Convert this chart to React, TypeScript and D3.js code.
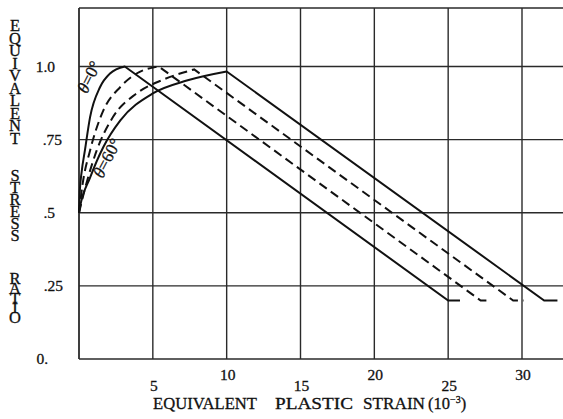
import React from 'react';
import * as d3 from 'd3';

const W = 563;
const H = 419;

const xTicks = [5, 10, 15, 20, 25, 30];
const xTickLabels = ['5', '10', '15', '20', '25', '30'];
const yTicks = [0, 0.25, 0.5, 0.75, 1.0];
const yTickLabels = ['0.', '.25', '.5', '.75', '1.0'];
const FLAT = 0.2;

// rising (hardening) branches: [strain, stress ratio]
const rise0: [number, number][] = [[0, 0.5], [0.05, 0.57], [0.18, 0.64], [0.4, 0.713], [0.75, 0.827], [1.42, 0.929], [2.1, 0.976], [3.1, 1.0]];
const rise30: [number, number][] = [[0, 0.5], [0.25, 0.6], [0.75, 0.713], [1.65, 0.85], [2.8, 0.93], [3.9, 0.976], [5.4, 1.0]];
const rise45: [number, number][] = [[0, 0.5], [0.5, 0.6], [1.2, 0.713], [2.3, 0.827], [3.9, 0.908], [5.7, 0.955], [7.8, 0.99]];
const rise60: [number, number][] = [[0, 0.5], [0.07, 0.52], [0.75, 0.62], [1.65, 0.725], [2.8, 0.816], [5.0, 0.908], [7.3, 0.952], [10.0, 0.983]];

// strain where softening branch reaches the flat level, and end of flat
const dropEnds = [25.0, 27.2, 29.4, 31.5];
const flatEnds = [25.8, 27.8, 30.1, 32.4];
const rises = [rise0, rise30, rise45, rise60];
const dashedFlags = [false, true, true, false];

const yTitleWords = ['EQUIVALENT', 'STRESS', 'RATIO'];
const xTitleWords = ['EQUIVALENT', 'PLASTIC', 'STRAIN'];

const x = d3.scaleLinear().domain([0, 30]).range([79, 522]);
const y = d3.scaleLinear().domain([0, 1.2]).range([359, 8]);

const serif = "'Liberation Serif', 'DejaVu Serif', serif";

// layout styles
const yLabelRight = [48, 63, 55, 62, 55];
const yWordTop = [16, 166, 269];
const yWordLen = [132, 79, 58];
const xLabelBase = [391, 380, 391, 380, 391, 380];
const xWordLeft = [153, 275, 363];
const xWordLen = [104, 78, 62];

export default function App() {
  const rising = d3.line<[number, number]>().x(d => x(d[0])).y(d => y(d[1])).curve(d3.curveMonotoneX);
  const straight = d3.line<[number, number]>().x(d => x(d[0])).y(d => y(d[1]));

  const paths = rises.map((r, i) => {
    const peak = r[r.length - 1];
    const tail: [number, number][] = [peak, [dropEnds[i], FLAT], [flatEnds[i], FLAT]];
    return (rising(r) || '') + (straight(tail) || '').replace(/^M/, 'L');
  });

  const gridColor = '#2a2a2a';
  const txt = { fontFamily: serif, fill: '#111', stroke: '#111', strokeWidth: 0.3 } as React.CSSProperties;
  const vtxt = { ...txt, writingMode: 'vertical-rl', textOrientation: 'upright' } as React.CSSProperties;

  return (
    <svg width={W} height={H} style={{ position: 'fixed', left: 0, top: 0, background: '#fff' }}>
      <rect width={W} height={H} fill="#fff" />
      {/* grid */}
      {yTicks.concat([1.2]).map(v => (
        <line key={'h' + v} x1={x(0)} x2={W} y1={y(v)} y2={y(v)} stroke={gridColor} strokeWidth={1.4} />
      ))}
      {[0].concat(xTicks).map(v => (
        <line key={'v' + v} x1={x(v)} x2={x(v)} y1={y(1.2)} y2={y(0)} stroke={gridColor} strokeWidth={v === 0 ? 1.8 : 1.4} />
      ))}
      {/* curves */}
      {paths.map((d, i) => (
        <path key={i} d={d} fill="none" stroke="#111" strokeWidth={2} strokeDasharray={dashedFlags[i] ? '9,5' : undefined} strokeLinejoin="miter" />
      ))}
      {/* theta labels */}
      <text transform="translate(89,77) rotate(-63)" fontSize={17} textAnchor="middle" dominantBaseline="central" style={txt}>
        <tspan fontStyle="italic">θ</tspan>=0°
      </text>
      <text transform="translate(107,158) rotate(-62)" fontSize={17} textAnchor="middle" dominantBaseline="central" style={txt}>
        <tspan fontStyle="italic">θ</tspan>=60°
      </text>
      {/* y tick labels */}
      {yTicks.map((v, i) => (
        <text key={'yl' + v} x={yLabelRight[i]} y={y(v) + 5} fontSize={15.5} textAnchor="end" style={txt}>{yTickLabels[i]}</text>
      ))}
      {/* x tick labels */}
      {xTicks.map((v, i) => (
        <text key={'xl' + v} x={x(v) + 1} y={xLabelBase[i]} fontSize={15.5} textAnchor="middle" style={txt}>{xTickLabels[i]}</text>
      ))}
      {/* y title: stacked upright letters */}
      {yTitleWords.map((w, wi) => (
        <text key={'yt' + wi} x={15} y={yWordTop[wi]} fontSize={16.5} textLength={yWordLen[wi]} lengthAdjust="spacing" style={vtxt}>{w}</text>
      ))}
      {/* x title */}
      {xTitleWords.map((w, wi) => (
        <text key={'xt' + wi} x={xWordLeft[wi]} y={409} fontSize={16.5} textLength={xWordLen[wi]} lengthAdjust="spacingAndGlyphs" style={txt}>{w}</text>
      ))}
      <text x={428} y={409} fontSize={16.5} style={txt}>
        (10<tspan fontSize={10} dy={-6}>−3</tspan><tspan dy={6}>)</tspan>
      </text>
    </svg>
  );
}
